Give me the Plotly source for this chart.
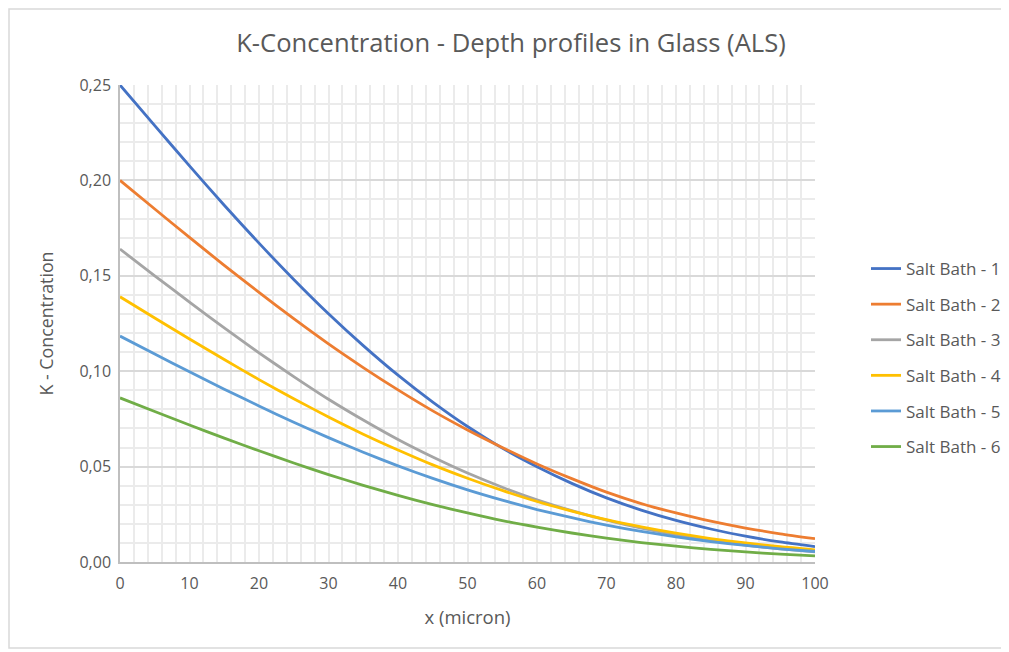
import plotly.graph_objects as go

x_micron = [0, 5, 10, 15, 20, 25, 30, 35, 40, 45, 50, 55, 60, 65, 70, 75, 80, 85, 90, 95, 100]

salt_bath_1 = [0.2500, 0.2287, 0.2076, 0.1870, 0.1671, 0.1481, 0.1301, 0.1134, 0.0979, 0.0838, 0.0710,
               0.0597, 0.0499, 0.0412, 0.0336, 0.0272, 0.0218, 0.0173, 0.0135, 0.0105, 0.0081]
salt_bath_2 = [0.2000, 0.1850, 0.1701, 0.1555, 0.1413, 0.1275, 0.1143, 0.1019, 0.0902, 0.0792, 0.0692,
               0.0600, 0.0514, 0.0437, 0.0366, 0.0306, 0.0257, 0.0214, 0.0178, 0.0148, 0.0122]
salt_bath_3 = [0.1640, 0.1500, 0.1362, 0.1227, 0.1096, 0.0972, 0.0853, 0.0744, 0.0642, 0.0550, 0.0466,
               0.0392, 0.0326, 0.0269, 0.0219, 0.0177, 0.0142, 0.0113, 0.0088, 0.0069, 0.0053]
salt_bath_4 = [0.1390, 0.1279, 0.1169, 0.1061, 0.0956, 0.0856, 0.0760, 0.0670, 0.0587, 0.0509, 0.0439,
               0.0375, 0.0317, 0.0267, 0.0222, 0.0184, 0.0151, 0.0123, 0.0100, 0.0080, 0.0064]
salt_bath_5 = [0.1184, 0.1090, 0.0997, 0.0906, 0.0818, 0.0732, 0.0652, 0.0575, 0.0504, 0.0438, 0.0378,
               0.0324, 0.0275, 0.0232, 0.0193, 0.0160, 0.0132, 0.0107, 0.0087, 0.0069, 0.0055]
salt_bath_6 = [0.0860, 0.0789, 0.0718, 0.0649, 0.0583, 0.0519, 0.0458, 0.0402, 0.0349, 0.0301, 0.0257,
               0.0217, 0.0183, 0.0152, 0.0125, 0.0102, 0.0083, 0.0066, 0.0053, 0.0041, 0.0032]

series_names = ["Salt Bath - 1", "Salt Bath - 2", "Salt Bath - 3",
                "Salt Bath - 4", "Salt Bath - 5", "Salt Bath - 6"]
series_values = [salt_bath_1, salt_bath_2, salt_bath_3, salt_bath_4, salt_bath_5, salt_bath_6]
series_colors = ["#4472C4", "#ED7D31", "#A5A5A5", "#FFC000", "#5B9BD5", "#70AD47"]

title_text = "K-Concentration - Depth profiles in Glass (ALS)"
x_title = "x (micron)"
y_title = "K - Concentration"

FONT = "Open Sans"
TXT = "#595959"

fig = go.Figure()
for i, (name, vals, col) in enumerate(zip(series_names, series_values, series_colors)):
    fig.add_trace(go.Scatter(
        x=x_micron, y=vals, name=name, mode="lines",
        line=dict(color=col, width=2.8, shape="spline", smoothing=0.6),
        legendgroup=f"g{i}",
    ))

# figure sits at an 8px page offset, so sizes are in figure coordinates
W, H = 1001, 644
L, R, T, B = 112, 807, 77, 554

fig.update_layout(
    width=W, height=H,
    margin=dict(l=L, r=W - R, t=T, b=H - B, pad=0, autoexpand=False),
    paper_bgcolor="white", plot_bgcolor="white",
    separators=",.",
    font=dict(family=FONT, color=TXT, size=16),
    title=dict(text=title_text, x=503 / W, xanchor="center", xref="container",
               y=1 - 35 / H, yanchor="middle", yref="container",
               font=dict(family=FONT, size=25.6, color=TXT)),
    showlegend=True,
    legend=dict(x=(858 - L) / (R - L), xanchor="left",
                y=(B - 243) / (B - T), yanchor="top",
                font=dict(family=FONT, size=17, color=TXT),
                tracegroupgap=10.5, bgcolor="rgba(0,0,0,0)"),
    xaxis=dict(range=[0, 100], dtick=10, tick0=0,
               showline=True, linecolor="#BFBFBF", linewidth=1.5,
               showgrid=True, gridcolor="#EBEBEB", gridwidth=1.5,
               zeroline=False, ticks="", ticklabelstandoff=6,
               tickfont=dict(family=FONT, size=16, color=TXT),
               minor=dict(dtick=2, showgrid=True, gridcolor="#EBEBEB", gridwidth=1.5),
               title=dict(text=x_title, font=dict(family=FONT, size=18.5, color=TXT), standoff=18)),
    yaxis=dict(range=[0, 0.25], dtick=0.05, tick0=0, tickformat=".2f",
               showline=True, linecolor="#BFBFBF", linewidth=1.5,
               showgrid=True, gridcolor="#D9D9D9", gridwidth=1.5,
               zeroline=False, ticks="", ticklabelstandoff=4,
               tickfont=dict(family=FONT, size=16, color=TXT),
               minor=dict(dtick=0.01, showgrid=True, gridcolor="#EBEBEB", gridwidth=1.5),
               title=dict(text=y_title, font=dict(family=FONT, size=17.8, color=TXT), standoff=21)),
)

# chart area frame
fig.add_shape(type="rect", xref="paper", yref="paper",
              x0=(1 - L) / (R - L), x1=(W - 1 - L) / (R - L),
              y0=(B - (H - 4)) / (B - T), y1=(B - 1) / (B - T),
              line=dict(color="#D9D9D9", width=1.5), layer="below")

fig.write_html("out.html")
